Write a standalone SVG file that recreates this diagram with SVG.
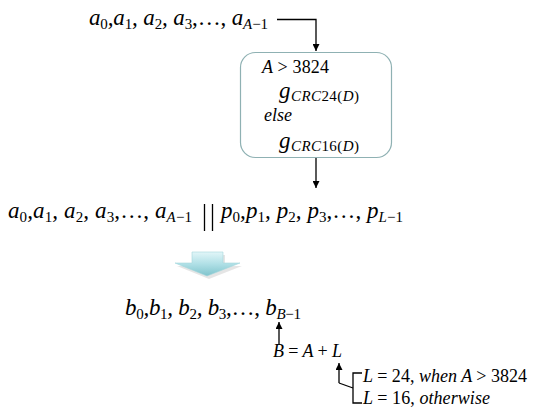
<svg xmlns="http://www.w3.org/2000/svg" width="544" height="420" viewBox="0 0 544 420">
<style>
.m{font-family:"Liberation Serif","DejaVu Serif",serif;font-style:italic;font-size:23px;fill:#000}
.t{font-family:"Liberation Serif","DejaVu Serif",serif;font-style:italic;font-size:18px;fill:#000}
.u{font-style:normal}
.s{font-size:15px}
.gs{font-size:15px}
.ln{fill:none;stroke:#000;stroke-width:1.3}
</style>
<defs>
<marker id="ah" viewBox="0 0 10 10" refX="10" refY="5" markerWidth="7" markerHeight="7" orient="auto" markerUnits="userSpaceOnUse"><path d="M0,0 L10,5 L0,10 z" fill="#000"/></marker>
<linearGradient id="fa" x1="0" y1="0" x2="0" y2="1">
<stop offset="0" stop-color="#e2f6f8"/>
<stop offset="0.5" stop-color="#b0e0e6"/>
<stop offset="1" stop-color="#7fc3cc"/>
</linearGradient>
</defs>
<g id="connectors">
<path class="ln" d="M277,19.5 H316 V51" marker-end="url(#ah)"/>
<path class="ln" d="M316,158 V188" marker-end="url(#ah)"/>
<path class="ln" d="M279,345 V322" marker-end="url(#ah)"/>
<path class="ln" d="M339,383 V363" marker-end="url(#ah)"/>
<path class="ln" d="M339,383 L353,388"/>
<path class="ln" d="M362,373 H353 V403 H362"/>
</g>
<g id="input-a">
<text class="m" x="89" y="25" textLength="179" lengthAdjust="spacing">a<tspan class="u s" dy="4">0</tspan><tspan dy="-4">,a</tspan><tspan class="u s" dy="4">1</tspan><tspan dy="-4">, a</tspan><tspan class="u s" dy="4">2</tspan><tspan dy="-4">, a</tspan><tspan class="u s" dy="4">3</tspan><tspan dy="-4" class="u">,…, </tspan><tspan>a</tspan><tspan class="s" dy="4">A</tspan><tspan class="u s">−1</tspan></text>
</g>
<g id="crc-box">
<rect x="240.5" y="52.5" width="151" height="105" rx="15" ry="15" fill="#fff" stroke="#8fb1b3" stroke-width="1.2"/>
<text class="t" x="262" y="73" textLength="67" lengthAdjust="spacing">A <tspan class="u">&gt; 3824</tspan></text>
<text class="m" x="279" y="98" font-size="24" textLength="80" lengthAdjust="spacing">g<tspan class="gs" dy="3">CRC</tspan><tspan class="gs u">24(</tspan><tspan class="gs">D</tspan><tspan class="gs u">)</tspan></text>
<text class="t" x="264" y="121" font-size="17">else</text>
<text class="m" x="279" y="148" font-size="24" textLength="80" lengthAdjust="spacing">g<tspan class="gs" dy="3">CRC</tspan><tspan class="gs u">16(</tspan><tspan class="gs">D</tspan><tspan class="gs u">)</tspan></text>
</g>
<g id="concat">
<text class="m" x="8" y="218" textLength="184" lengthAdjust="spacing">a<tspan class="u s" dy="4">0</tspan><tspan dy="-4">,a</tspan><tspan class="u s" dy="4">1</tspan><tspan dy="-4">, a</tspan><tspan class="u s" dy="4">2</tspan><tspan dy="-4">, a</tspan><tspan class="u s" dy="4">3</tspan><tspan dy="-4" class="u">,…, </tspan><tspan>a</tspan><tspan class="s" dy="4">A</tspan><tspan class="u s">−1</tspan></text>
<path d="M204.5,204 V231 M212.5,204 V231" stroke="#000" stroke-width="1.3" fill="none"/>
<text class="m" x="221" y="218" textLength="182" lengthAdjust="spacing">p<tspan class="u s" dy="4">0</tspan><tspan dy="-4">,p</tspan><tspan class="u s" dy="4">1</tspan><tspan dy="-4">, p</tspan><tspan class="u s" dy="4">2</tspan><tspan dy="-4">, p</tspan><tspan class="u s" dy="4">3</tspan><tspan dy="-4" class="u">,…, </tspan><tspan>p</tspan><tspan class="s" dy="4">L</tspan><tspan class="u s">−1</tspan></text>
</g>
<g id="fat-arrow">
<path d="M194,255 H225 V266 H242 L209,279 L177,266 H194 Z" fill="#000" opacity="0.1"/>
<path d="M192,252 H223 V263 H240 L207,276 L175,263 H192 Z" fill="url(#fa)" stroke="#a5d6dc" stroke-width="0.6"/>
</g>
<g id="output-b">
<text class="m" x="125" y="315" textLength="176" lengthAdjust="spacing">b<tspan class="u s" dy="4">0</tspan><tspan dy="-4">,b</tspan><tspan class="u s" dy="4">1</tspan><tspan dy="-4">, b</tspan><tspan class="u s" dy="4">2</tspan><tspan dy="-4">, b</tspan><tspan class="u s" dy="4">3</tspan><tspan dy="-4" class="u">,…, </tspan><tspan>b</tspan><tspan class="s" dy="4">B</tspan><tspan class="u s">−1</tspan></text>
</g>
<g id="b-length">
<text class="t" x="273" y="357" textLength="69" lengthAdjust="spacing">B <tspan class="u">=</tspan> A <tspan class="u">+</tspan> L</text>
</g>
<g id="l-cases">
<text class="t" x="363" y="382" textLength="164" lengthAdjust="spacing">L <tspan class="u">= 24,</tspan> when A <tspan class="u">&gt; 3824</tspan></text>
<text class="t" x="363" y="404" textLength="127" lengthAdjust="spacing">L <tspan class="u">= 16,</tspan> otherwise</text>
</g>
</svg>
